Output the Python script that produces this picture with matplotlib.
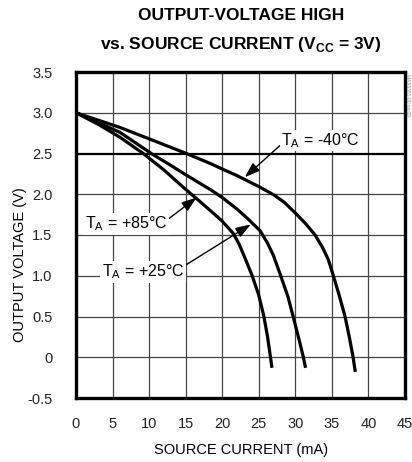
import matplotlib
matplotlib.use("Agg")
import matplotlib.pyplot as plt

plt.rcParams['font.family'] = ['Liberation Sans', 'DejaVu Sans']

# Data
I_m40 = [0, 3, 6, 10, 15.1, 18.3, 20, 22, 23.1, 25.1, 27.1, 28.5, 30, 31.5, 32.7, 33.7, 34.5, 35.1, 36.0, 36.8, 37.4, 37.9, 38.2]
V_m40 = [3.0, 2.91, 2.82, 2.68, 2.5, 2.38, 2.31, 2.23, 2.18, 2.09, 1.99, 1.9, 1.77, 1.63, 1.5, 1.35, 1.2, 1.03, 0.76, 0.5, 0.24, 0.0, -0.18]
I_25 = [0, 3, 6, 10.3, 12.5, 15, 18.5, 20, 22, 23.5, 25.2, 26.2, 27, 28, 29, 29.7, 30.5, 31.1, 31.4]
V_25 = [3.0, 2.88, 2.76, 2.5, 2.38, 2.24, 2.05, 1.96, 1.82, 1.7, 1.55, 1.4, 1.25, 1.0, 0.74, 0.5, 0.22, 0.0, -0.13]
I_85 = [0, 3, 6, 9.2, 12, 15, 16.7, 18.5, 20, 21.5, 22.3, 23.1, 24.1, 25, 25.7, 26.2, 26.6, 26.8]
V_85 = [3.0, 2.86, 2.7, 2.5, 2.3, 2.06, 1.93, 1.79, 1.67, 1.52, 1.39, 1.22, 1.0, 0.76, 0.5, 0.25, 0.0, -0.13]

x_ticks = [0, 5, 10, 15, 20, 25, 30, 35, 40, 45]
y_ticks = [-0.5, 0, 0.5, 1.0, 1.5, 2.0, 2.5, 3.0, 3.5]
y_tick_labels = ["-0.5", "0", "0.5", "1.0", "1.5", "2.0", "2.5", "3.0", "3.5"]

fig = plt.figure(figsize=(4.12, 4.62), dpi=100)
ax = fig.add_axes([76/412, 1-398/462, (405-76)/412, (398-72)/462])

ax.set_xlim(0, 45)
ax.set_ylim(-0.5, 3.5)
ax.set_xticks(x_ticks)
ax.set_xticklabels([str(t) for t in x_ticks])
ax.set_yticks(y_ticks)
ax.set_yticklabels(y_tick_labels)
ax.tick_params(length=0, labelsize=10.5, pad=14, colors='#222222')
ax.tick_params(axis='y', pad=17)

for x in x_ticks[1:-1]:
    ax.axvline(x, color='#444444', lw=0.9, zorder=1)
for y in y_ticks[1:-1]:
    if y == 2.5:
        ax.axhline(y, color='black', lw=1.6, zorder=1)
    else:
        ax.axhline(y, color='#444444', lw=0.9, zorder=1)

for s in ax.spines.values():
    s.set_linewidth(2.4)

for I, V in [(I_m40, V_m40), (I_25, V_25), (I_85, V_85)]:
    ax.plot(I, V, color='black', lw=2.3, solid_capstyle='butt', solid_joinstyle='round', zorder=3)

arrow = dict(arrowstyle='-|>,head_length=0.8,head_width=0.28', color='black', lw=1.0, shrinkA=0, shrinkB=0)
bbox = dict(boxstyle='square,pad=0.1', fc='white', ec='none')
ax.annotate('T$_\\mathregular{A}$ = -40°C', xy=(23.1, 2.21), xytext=(28.1, 2.66),
            ha='left', va='center', fontsize=11.5, bbox=bbox, arrowprops=dict(arrow, relpos=(0.0, 0.3)), zorder=4)
ax.annotate('T$_\\mathregular{A}$ = +85°C', xy=(16.5, 1.96), xytext=(1.2, 1.64),
            ha='left', va='center', fontsize=11.5, bbox=bbox, arrowprops=dict(arrow, relpos=(1.0, 0.7)), zorder=4)
ax.annotate('T$_\\mathregular{A}$ = +25°C', xy=(23.9, 1.63), xytext=(3.5, 1.05),
            ha='left', va='center', fontsize=11.5, bbox=bbox, arrowprops=dict(arrow, relpos=(1.0, 0.8)), zorder=4)

fig.text(241/412, 1-450/462, 'SOURCE CURRENT (mA)', ha='center', va='center', fontsize=10.5)
fig.text(20/412, 1-265/462, 'OUTPUT VOLTAGE (V)', ha='center', va='center', fontsize=10.5, rotation=90)

fig.text(241/412, 1-16/462, 'OUTPUT-VOLTAGE HIGH', ha='center', va='center', fontsize=12.5, fontweight='bold')
fig.text(241/412, 1-45/462, 'vs. SOURCE CURRENT (V$_\\mathregular{CC}$ = 3V)', ha='center', va='center',
         fontsize=12.5, fontweight='bold')
fig.text(408/412, 1-95/462, 'MAX6381-90 toc05', ha='center', va='center', fontsize=3.5, rotation=270, color='#888888')

fig.savefig('out.png', dpi=100)
